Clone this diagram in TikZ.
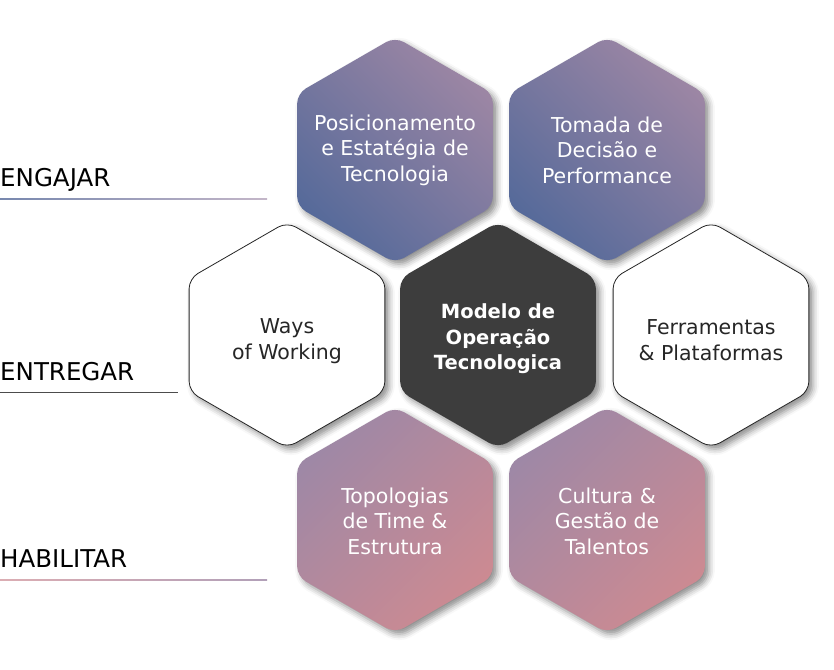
\documentclass[tikz,border=0pt]{standalone}
\usepackage{fontspec}
\setmainfont{DejaVu Sans}
\usetikzlibrary{shapes.geometric}
\usetikzlibrary{shadows.blur}
\usepackage{xcolor}

\definecolor{hexblue}{HTML}{566A9A}
\definecolor{hexlilac}{HTML}{9C86A4}
\definecolor{hexmauve}{HTML}{9E88A6}
\definecolor{hexrose}{HTML}{CC8A92}
\definecolor{hexdark}{HTML}{3D3D3D}

\tikzset{
  hexa/.style={regular polygon, regular polygon sides=6, shape border rotate=90,
    minimum size=226pt, inner sep=0pt, rounded corners=10pt,
    blur shadow={shadow xshift=4pt, shadow yshift=-4pt, shadow blur radius=6pt, shadow opacity=45}},
  engajar/.style={left color=hexblue, right color=hexlilac, shading angle=135},
  entregar/.style={fill=white, draw=black!85, line width=0.8pt},
  nucleo/.style={fill=hexdark},
  habilitar/.style={top color=hexmauve, bottom color=hexrose, shading angle=45},
  texto/.style={align=center, inner sep=0pt, text=white, font=\fontsize{20.5}{25.5}\selectfont},
  rotulo/.style={anchor=base west, inner sep=0pt, font=\fontsize{24.5}{28}\selectfont, text=black}
}

\begin{document}
\begin{tikzpicture}[x=1pt,y=1pt]
\useasboundingbox (0,0) rectangle (834,669);

% engajar
\node[hexa, engajar] (posic) at (395,519) {};
\node[texto] (posic-t) at (posic) {Posicionamento\\e Estatégia de\\Tecnologia};
\node[hexa, engajar] (tomada) at (607,519) {};
\node[texto] (tomada-t) at (tomada) {Tomada de\\Decisão e\\Performance};

% entregar
\node[hexa, entregar] (ways) at (287,334) {};
\node[texto, text=black!85] (ways-t) at ([yshift=-6pt]ways) {Ways\\of Working};
\node[hexa, nucleo] (modelo) at (498,334) {};
\node[texto, font=\fontsize{19.5}{25.5}\selectfont\bfseries] (modelo-t) at ([yshift=-4pt]modelo) {Modelo de\\Operação\\Tecnologica};
\node[hexa, entregar] (ferram) at (711,334) {};
\node[texto, text=black!85] (ferram-t) at ([yshift=-5pt]ferram) {Ferramentas\\\& Plataformas};

% habilitar
\node[hexa, habilitar] (topol) at (395,149) {};
\node[texto] (topol-t) at ([yshift=-1pt]topol) {Topologias\\de Time \&\\Estrutura};
\node[hexa, habilitar] (cultura) at (607,149) {};
\node[texto] (cultura-t) at ([yshift=-1pt]cultura) {Cultura \&\\Gestão de\\Talentos};

% rotulos
\node[rotulo] (eng) at (0,482) {ENGAJAR};
\shade[left color=hexblue!80, right color=hexlilac!60] (0,469.5) rectangle (267,470.7);
\node[rotulo] (ent) at (0,288) {ENTREGAR};
\fill[black!70] (0,275.5) rectangle (178,276.5);
\node[rotulo] (hab) at (0,102) {HABILITAR};
\shade[left color=hexrose!70, right color=hexmauve!80] (0,88.5) rectangle (267,89.7);
\end{tikzpicture}
\end{document}
